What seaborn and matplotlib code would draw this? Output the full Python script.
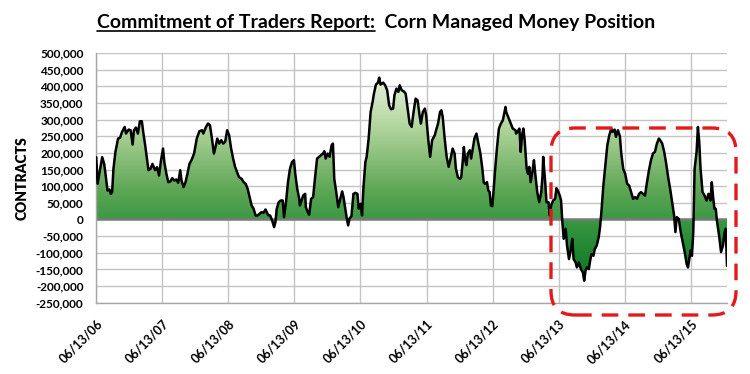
import numpy as np
import pandas as pd
import matplotlib
matplotlib.use("Agg")
import matplotlib.pyplot as plt
import matplotlib.dates as mdates
from matplotlib.colors import LinearSegmentedColormap, Normalize
from matplotlib.patches import FancyBboxPatch
from matplotlib.transforms import IdentityTransform
from matplotlib.lines import Line2D
import seaborn as sns

# ---------------- data ----------------
title_left = "Commitment of Traders Report:"
title_right = "Corn Managed Money Position"
y_title = "CONTRACTS"
tick_dates = ["2006-06-13", "2007-06-13", "2008-06-13", "2009-06-13", "2010-06-13",
              "2011-06-13", "2012-06-13", "2013-06-13", "2014-06-13", "2015-06-13"]
tick_labels = ["06/13/06", "06/13/07", "06/13/08", "06/13/09", "06/13/10",
               "06/13/11", "06/13/12", "06/13/13", "06/13/14", "06/13/15"]
y_ticks = list(range(-250000, 500001, 50000))

# report dates expressed as decimal years
year_pos = [
    2006.45, 2006.47, 2006.50, 2006.54, 2006.57, 2006.59, 2006.62, 2006.65, 2006.67, 2006.69,
    2006.71, 2006.74, 2006.78, 2006.81, 2006.84, 2006.88, 2006.90, 2006.94, 2006.97, 2007.00,
    2007.02, 2007.05, 2007.08, 2007.11, 2007.14, 2007.16, 2007.19, 2007.21, 2007.24, 2007.27,
    2007.30, 2007.34, 2007.37, 2007.40, 2007.43, 2007.46, 2007.48, 2007.51, 2007.54, 2007.57,
    2007.60, 2007.63, 2007.66, 2007.69, 2007.72, 2007.74, 2007.77, 2007.80, 2007.83, 2007.86,
    2007.89, 2007.93, 2007.97, 2008.01, 2008.05, 2008.07, 2008.11, 2008.14, 2008.17, 2008.20,
    2008.23, 2008.26, 2008.28, 2008.31, 2008.34, 2008.37, 2008.40, 2008.43, 2008.46, 2008.49,
    2008.52, 2008.55, 2008.58, 2008.61, 2008.65, 2008.68, 2008.71, 2008.74, 2008.77, 2008.80,
    2008.83, 2008.86, 2008.89, 2008.92, 2008.95, 2008.98, 2009.01, 2009.05, 2009.08, 2009.11,
    2009.14, 2009.16, 2009.18, 2009.21, 2009.24, 2009.27, 2009.29, 2009.32, 2009.35, 2009.38,
    2009.41, 2009.44, 2009.46, 2009.49, 2009.52, 2009.53, 2009.58, 2009.61, 2009.62, 2009.65,
    2009.67, 2009.70, 2009.73, 2009.76, 2009.79, 2009.82, 2009.85, 2009.88, 2009.90, 2009.92,
    2009.95, 2009.98, 2010.01, 2010.03, 2010.05, 2010.08, 2010.11, 2010.14, 2010.17, 2010.19,
    2010.22, 2010.24, 2010.26, 2010.28, 2010.31, 2010.34, 2010.37, 2010.40, 2010.42, 2010.45,
    2010.47, 2010.49, 2010.52, 2010.54, 2010.57, 2010.60, 2010.63, 2010.65, 2010.68, 2010.71,
    2010.73, 2010.75, 2010.79, 2010.82, 2010.85, 2010.88, 2010.91, 2010.94, 2010.96, 2010.99,
    2011.02, 2011.04, 2011.07, 2011.10, 2011.13, 2011.19, 2011.22, 2011.25, 2011.28, 2011.31,
    2011.34, 2011.36, 2011.39, 2011.42, 2011.44, 2011.47, 2011.50, 2011.53, 2011.57, 2011.59,
    2011.62, 2011.65, 2011.67, 2011.69, 2011.72, 2011.75, 2011.78, 2011.81, 2011.84, 2011.87,
    2011.89, 2011.92, 2011.95, 2011.97, 2011.99, 2012.01, 2012.03, 2012.05, 2012.07, 2012.10,
    2012.12, 2012.15, 2012.17, 2012.20, 2012.23, 2012.26, 2012.29, 2012.31, 2012.33, 2012.36,
    2012.38, 2012.40, 2012.42, 2012.44, 2012.46, 2012.48, 2012.51, 2012.54, 2012.57, 2012.60,
    2012.64, 2012.65, 2012.69, 2012.72, 2012.75, 2012.79, 2012.80, 2012.82, 2012.85, 2012.87,
    2012.89, 2012.91, 2012.93, 2012.96, 2012.98, 2013.00, 2013.02, 2013.05, 2013.07, 2013.09,
    2013.12, 2013.15, 2013.18, 2013.20, 2013.21, 2013.24, 2013.26, 2013.29, 2013.31, 2013.33,
    2013.36, 2013.39, 2013.41, 2013.43, 2013.46, 2013.48, 2013.50, 2013.52, 2013.55, 2013.57,
    2013.60, 2013.63, 2013.65, 2013.67, 2013.70, 2013.72, 2013.75, 2013.78, 2013.81, 2013.83,
    2013.85, 2013.87, 2013.90, 2013.92, 2013.94, 2013.97, 2013.99, 2014.02, 2014.05, 2014.07,
    2014.09, 2014.12, 2014.15, 2014.18, 2014.21, 2014.24, 2014.26, 2014.29, 2014.31, 2014.34,
    2014.37, 2014.39, 2014.42, 2014.45, 2014.48, 2014.51, 2014.54, 2014.57, 2014.60, 2014.63,
    2014.66, 2014.69, 2014.72, 2014.75, 2014.78, 2014.81, 2014.84, 2014.87, 2014.90, 2014.93,
    2014.96, 2014.98, 2015.01, 2015.04, 2015.07, 2015.10, 2015.13, 2015.16, 2015.19, 2015.21,
    2015.23, 2015.26, 2015.29, 2015.32, 2015.35, 2015.38, 2015.40, 2015.42, 2015.44, 2015.46,
    2015.48, 2015.50, 2015.53, 2015.55, 2015.57, 2015.59, 2015.62, 2015.65, 2015.68, 2015.71,
    2015.74, 2015.76, 2015.78, 2015.80, 2015.82, 2015.84, 2015.87, 2015.90, 2015.93, 2015.95,
    2015.97, 2015.99,
]

# managed money net position, thousands of contracts
net_k = [
    187, 107, 142, 187, 167, 137, 87, 90, 77, 82,
    152, 203, 243, 245, 263, 278, 258, 270, 268, 225,
    268, 276, 258, 295, 295, 263, 223, 193, 148, 152,
    167, 148, 157, 132, 178, 213, 172, 138, 112, 114,
    124, 117, 120, 110, 148, 117, 97, 112, 138, 167,
    178, 198, 243, 265, 268, 258, 278, 288, 283, 243,
    198, 223, 243, 228, 238, 228, 233, 268, 253, 213,
    183, 158, 142, 127, 122, 112, 107, 92, 67, 42,
    32, 12, 12, 17, 22, 20, 30, 13, 12, -3,
    -23, -8, 32, 52, 57, 57, 7, 52, 112, 152,
    172, 178, 137, 92, 62, 42, 72, 77, 37, 22,
    14, 62, 67, 127, 183, 188, 193, 198, 205, 183,
    198, 188, 223, 228, 122, 82, 37, 62, 84, 67,
    27, 2, -18, 3, 10, 77, 80, 77, 32, 47,
    12, 92, 172, 188, 243, 323, 353, 378, 405, 411,
    426, 405, 411, 403, 388, 343, 331, 333, 373, 393,
    383, 403, 388, 385, 378, 288, 278, 323, 363, 358,
    313, 288, 323, 333, 313, 243, 188, 238, 253, 268,
    288, 323, 328, 308, 243, 188, 158, 183, 213, 198,
    152, 127, 122, 127, 168, 218, 178, 163, 198, 208,
    183, 218, 243, 258, 228, 198, 152, 112, 107, 112,
    87, 82, 42, 40, 87, 142, 213, 273, 288, 298,
    338, 323, 303, 288, 273, 268, 258, 263, 273, 203,
    253, 273, 238, 152, 137, 158, 112, 148, 178, 137,
    82, 52, 82, 132, 188, 112, 52, 52, 12, 42,
    57, 62, 94, 87, 72, 57, -8, -58, -28, -78,
    -119, -89, -58, -119, -129, -144, -129, -149, -159, -184,
    -154, -144, -149, -124, -104, -109, -89, -78, -53, -23,
    22, 102, 163, 223, 253, 273, 263, 270, 248, 268,
    250, 200, 152, 137, 107, 102, 82, 62, 67, 62,
    77, 82, 77, 72, 112, 148, 178, 198, 203, 228,
    243, 238, 228, 203, 168, 127, 92, 52, 12, -38,
    7, 2, -38, -68, -98, -134, -144, -119, -93, -109,
    -38, 152, 203, 278, 233, 152, 82, 72, 57, 77,
    57, 112, 67, 32, 32, -8, -48, -98, -78, -43,
    -28, -139,
]

# ---------------- figure ----------------
sns.set_theme(style="white")
plt.rcParams['font.family'] = ['Lato', 'DejaVu Sans']

dates = pd.Timestamp("2006-01-01") + pd.to_timedelta((np.array(year_pos) - 2006) * 365.25, unit="D")
df = pd.DataFrame({"date": dates, "contracts": np.array(net_k) * 1000})
tick_dt = pd.to_datetime(tick_dates)

W, H = 750, 374
fig = plt.figure(figsize=(W / 100, H / 100), dpi=100)
ax = fig.add_axes([96 / W, 1 - 302.7 / H, (727 - 96) / W, (302.7 - 53) / H])

xnum = mdates.date2num(df["date"])
x0, x1 = xnum[0], xnum[-1]

# gradient area fill clipped to the area polygon
poly = ax.fill_between(xnum, df["contracts"], 0, facecolor="none", edgecolor="none")
cmap = LinearSegmentedColormap.from_list(
    "greens", [(0.0, "#07761e"), (0.30, "#3a9843"), (0.45, "#5fa757"),
               (0.75, "#b0d59b"), (1.0, "#e6f2de")])
grad = np.linspace(-250000, 500000, 400).reshape(-1, 1)
im = ax.imshow(grad, extent=[x0, x1, -250000, 500000], origin="lower", aspect="auto",
               cmap=cmap, norm=Normalize(-185000, 430000), zorder=1, interpolation="bilinear")
im.set_clip_path(poly.get_paths()[0], transform=ax.transData)

ax.axhline(0, color="#7a7a7a", lw=1.8, zorder=2)
sns.lineplot(data=df, x="date", y="contracts", color="black", lw=1.8, ax=ax, zorder=3)

ax.set_xlim(x0, x1)
ax.set_ylim(-250000, 500000)
ax.set_yticks(y_ticks)
ax.set_yticklabels([f"{v:,}" for v in y_ticks], fontweight="bold", fontsize=8.5)
ax.set_xticks(mdates.date2num(tick_dt))
ax.set_xticklabels(tick_labels, rotation=45, ha="right", rotation_mode="anchor",
                   fontweight="bold", fontsize=9)
ax.set_xlabel("")
ax.set_ylabel("")
fig.text(22 / W, 1 - 178 / H, y_title, rotation=90, ha="center", va="center",
         fontsize=10, fontweight="heavy", color="black")

ax.grid(True, color="#c4c4c4", lw=1)
ax.set_axisbelow(True)
for s in ["top", "right"]:
    ax.spines[s].set_visible(False)
for s in ["left", "bottom"]:
    ax.spines[s].set_color("#a8a8a8")
    ax.spines[s].set_linewidth(1)
ax.tick_params(axis="both", direction="out", length=5, width=1, color="#a8a8a8",
               labelcolor="black")
ax.tick_params(axis="y", pad=4)
ax.tick_params(axis="x", pad=6)

# title with underlined first part
t1 = fig.text(0.5, 1 - 28 / H, title_left, ha="right", va="baseline",
              fontsize=14, fontweight="bold", color="black")
t2 = fig.text(0.5, 1 - 28 / H, "  " + title_right, ha="left", va="baseline",
              fontsize=14, fontweight="bold", color="black")
fig.canvas.draw()
bb = t1.get_window_extent()
yb = H - 28 - 2.5
fig.add_artist(Line2D([bb.x0, bb.x1], [yb, yb], color="black", lw=1.2,
                      transform=IdentityTransform()))

# red dashed rounded highlight box
box = FancyBboxPatch((551, H - 315), 736 - 551, 315 - 128,
                     boxstyle="round,pad=0,rounding_size=24",
                     fill=False, edgecolor="#e31a1c", lw=2.4, linestyle=(0, (5, 3)),
                     transform=IdentityTransform(), clip_on=False, zorder=10)
fig.add_artist(box)

fig.savefig("out.png", dpi=100)
